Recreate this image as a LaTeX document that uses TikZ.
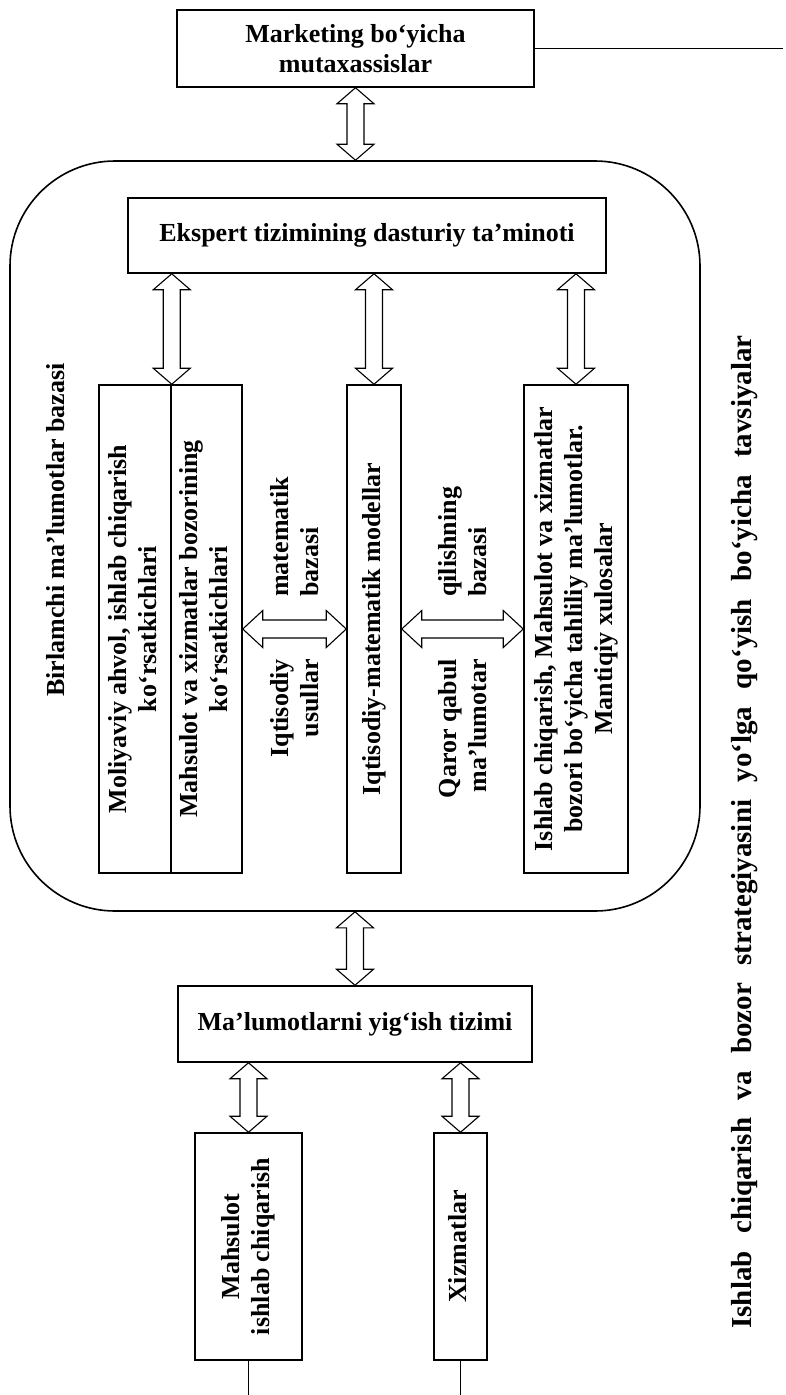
\documentclass[tikz,border=0pt]{standalone}
\usepackage{fontspec}
\setmainfont{Liberation Serif}
\usepackage{graphicx}
\usetikzlibrary{calc}
\def\varr(#1)(#2){\draw[arr] let \p1=(#1), \p2=(#2) in (\x1,\y1) -- ++(18.5pt,-16pt) -- ++(-10pt,0pt) -- (\x1+8.5pt,\y2+16pt) -- ++(10pt,0pt) -- (\x1,\y2) -- ++(-18.5pt,16pt) -- ++(10pt,0pt) -- (\x1-8.5pt,\y1-16pt) -- ++(-10pt,0pt) -- cycle;}
\def\harr(#1)(#2){\draw[arr] let \p1=(#1), \p2=(#2) in (\x1,\y1) -- ++(20pt,18.5pt) -- ++(0pt,-9.5pt) -- (\x2-20pt,\y1+9pt) -- ++(0pt,9.5pt) -- (\x2,\y1) -- ++(-20pt,-18.5pt) -- ++(0pt,9.5pt) -- (\x1+20pt,\y1-9pt) -- ++(0pt,-9.5pt) -- cycle;}
\def\vtext#1{\rotatebox{90}{\begin{tabular}{@{}c@{}}#1\end{tabular}}}
\tikzset{
	box/.style={draw, line width=1.5pt, inner sep=0pt, align=center, font={\fontsize{26}{30}\selectfont\bfseries}},
	lbl/.style={inner sep=0pt, font={\fontsize{26}{30}\selectfont\bfseries}},
	arr/.style={fill=white, line width=1.1pt, line join=miter},
}

\begin{document}
\begin{tikzpicture}[x=1pt,y=-1pt]
			%%%%% START %%%%%
			\useasboundingbox (0,0) rectangle (785,1395);
			
			\node[box, minimum width=357pt, minimum height=77pt] (mark) at (355.5,48.5) {Marketing bo‘yicha\\mutaxassislar};
			\coordinate (markend) at (783,48.5);
			\draw[line width=1.5pt] (mark.east) -- (markend);
			
			\node[draw, line width=1.6pt, rounded corners=105pt, minimum width=690pt, minimum height=750pt] (baza) at (355,536) {};
			
			\node[box, minimum width=478pt, minimum height=75pt] (eksp) at (367,235.5) {Ekspert tizimining dasturiy ta’minoti};
			
			\node[box, minimum width=72pt, minimum height=488pt] (moliya) at (135,629) {\vtext{Moliyaviy ahvol, ishlab chiqarish\\ko‘rsatkichlari}};
			\node[box, minimum width=71pt, minimum height=488pt] (bozor) at (206.5,629) {\vtext{Mahsulot va xizmatlar bozorining\\ko‘rsatkichlari}};
			\node[box, minimum width=54pt, minimum height=488pt] (model) at (374,629) {\vtext{Iqtisodiy-matematik modellar}};
			\node[box, minimum width=104pt, minimum height=488pt] (tahlil) at (576,629) {\vtext{Ishlab chiqarish, Mahsulot va xizmatlar\\bozori bo‘yicha tahliliy ma’lumotlar.\\Mantiqiy xulosalar}};
			
			\node[lbl, rotate=90, anchor=west, align=left] (usul1) at (295,597) {matematik\\bazasi};
			\node[lbl, rotate=90, anchor=east, align=right] (usul2) at (295,659) {Iqtisodiy\\usullar};
			\node[lbl, rotate=90, anchor=west, align=left] (qaror1) at (463,597) {qilishning\\bazasi};
			\node[lbl, rotate=90, anchor=east, align=right] (qaror2) at (463,659) {Qaror qabul\\ma’lumotar};
			
			\node[lbl, rotate=90] (birl) at (56,530) {Birlamchi ma’lumotlar bazasi};
			\node[lbl, rotate=90, font={\fontsize{29}{33}\selectfont\bfseries}] (tavs) at (745,832) {\spaceskip=0.6em Ishlab chiqarish va bozor strategiyasini yo‘lga qo‘yish bo‘yicha tavsiyalar};
			
			\node[box, minimum width=354pt, minimum height=76pt] (malum) at (355,1024) {Ma’lumotlarni yig‘ish tizimi};
			\node[box, minimum width=107pt, minimum height=227pt] (mahs) at (248.5,1246.5) {\vtext{Mahsulot\\ishlab chiqarish}};
			\node[box, minimum width=53pt, minimum height=227pt] (xizm) at (460.5,1246.5) {\vtext{Xizmatlar}};
			\coordinate (bot) at (0,1395);
			\draw[line width=1.5pt] (mahs.south) -- (mahs.south |- bot);
			\draw[line width=1.5pt] (xizm.south) -- (xizm.south |- bot);
			
			\varr(mark.south)(baza.north)
			\varr(eksp.south -| moliya.east)(moliya.north east)
			\varr(eksp.south -| model.north)(model.north)
			\varr(eksp.south -| tahlil.north)(tahlil.north)
			\harr(bozor.east)(model.west)
			\harr(model.east)(tahlil.west)
			\varr(baza.south)(malum.north)
			\varr(malum.south -| mahs.north)(mahs.north)
			\varr(malum.south -| xizm.north)(xizm.north)
			
			%%%%% END %%%%%
\end{tikzpicture}
\end{document}
